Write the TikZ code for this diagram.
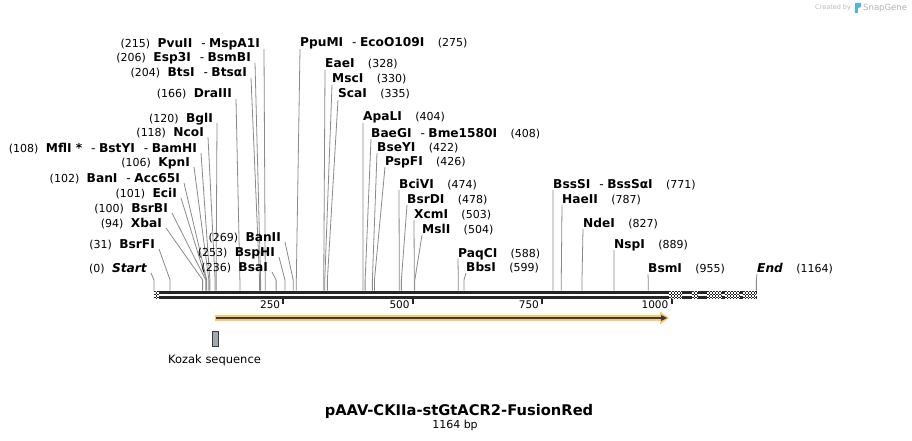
\documentclass[tikz,border=0pt]{standalone}
\usepackage{fontspec}
\setmainfont{DejaVu Sans}
\definecolor{barc}{HTML}{262626}
\definecolor{connc}{HTML}{8A8A8A}
\definecolor{featc}{HTML}{FBC86E}
\definecolor{featd}{HTML}{3C3C3C}
\definecolor{kozc}{HTML}{A3A8AE}
\definecolor{sgblue}{HTML}{4FB3E8}
\newcommand\sep{\hspace{9pt}{\mdseries-}\hspace{3.5pt}}
\newcommand\lsite[6]{%
  \node[namefont, anchor=base east] (#1) at (#3,#4) {#6};
  \node[numfont, anchor=base east] (#1n) at ([xshift=-7pt]#1.base west) {(#5)};
  \coordinate (#1k) at ({154+0.5175*#2},280);
  \coordinate (#1b) at ({154+0.5175*#2},290.7);
  \draw[conn] ([xshift=4pt,yshift=-1pt]#1.base east) -- (#1k) -- (#1b);
}
\newcommand\rsite[6]{%
  \node[namefont, anchor=base west] (#1) at (#3,#4) {#6};
  \node[numfont, anchor=base west] (#1n) at ([xshift=13pt]#1.base east) {(#5)};
  \coordinate (#1k) at ({154+0.5175*#2},280);
  \coordinate (#1b) at ({154+0.5175*#2},290.7);
  \draw[conn] ([yshift=-2pt]#1.base west) -- (#1k) -- (#1b);
}
\newcommand\chkseg[2]{%
  \begin{scope}
  \clip (#1,290.9) rectangle (#2,298.6);
  \fill[white] (#1,290.9) rectangle (#2,298.6);
  \pgfmathtruncatemacro\chknx{(#2-#1)/1.5}
  \foreach \ci in {0,...,\chknx} {
    \foreach \cj in {0,...,5} {
      \pgfmathtruncatemacro\chkpar{mod(\ci+\cj,2)}
      \ifnum\chkpar=0
        \fill[barc] ({#1+1.5*\ci},{290.9+1.5*\cj}) rectangle ++(1.5,1.5);
      \fi
    }
  }
  \end{scope}
}
\begin{document}
\begin{tikzpicture}[x=1pt,y=-1pt,
  namefont/.style={font=\fontsize{12.2}{14}\selectfont\bfseries, inner sep=0pt},
  numfont/.style={font=\fontsize{11}{13}\selectfont, inner sep=0pt},
  conn/.style={draw=connc, line width=0.8pt},
  strand/.style={fill=barc, draw=none},
  tickmark/.style={draw=barc, line width=2pt},
  ticklab/.style={font=\fontsize{10.5}{12}\selectfont, inner sep=0pt, anchor=base east}]
\useasboundingbox (0,0) rectangle (912,441);
\fill[white] (0,0) rectangle (912,441);

% sequence bar
\fill[strand] (154,290.9) rectangle (757,293.8);
\fill[strand] (154,295.6) rectangle (757,298.6);
\chkseg{154}{159}
\chkseg{669}{682}
\chkseg{692}{698}
\chkseg{707}{722}
\chkseg{725}{740}
\chkseg{743}{756}

% ticks
\foreach \v in {250,500,750,1000} {
  \coordinate (t\v) at ({154+0.5175*\v},298.6);
  \draw[tickmark] (t\v) -- ++(0,5.5);
  \node[ticklab] (tl\v) at ([xshift=-3pt,yshift=-10pt]t\v) {\v};
}

% left labels
\lsite{pvu}{215}{260}{48}{215}{PvuII\sep MspA1I}
\lsite{esp}{206}{251}{62}{206}{Esp3I\sep BsmBI}
\lsite{bts}{204}{247}{77}{204}{BtsI\sep BtsαI}
\lsite{dra}{166}{232}{98}{166}{DraIII}
\lsite{bgl}{120}{213}{122}{120}{BglI}
\lsite{nco}{118}{204}{136}{118}{NcoI}
\lsite{mfl}{108}{197}{152}{108}{MflI *\sep BstYI\sep BamHI}
\lsite{kpn}{106}{190}{166}{106}{KpnI}
\lsite{ban}{102}{180}{182}{102}{BanI\sep Acc65I}
\lsite{eci}{101}{177}{197}{101}{EciI}
\lsite{bsrb}{100}{168}{212}{100}{BsrBI}
\lsite{xba}{94}{162}{227}{94}{XbaI}
\lsite{bsrf}{31}{155}{248}{31}{BsrFI}
\lsite{start}{0}{147}{272}{0}{\itshape Start}
\lsite{banii}{269}{281}{241}{269}{BanII}
\lsite{bsph}{253}{275}{256}{253}{BspHI}
\lsite{bsa}{236}{268}{271}{236}{BsaI}

% right labels
\rsite{ppu}{275}{300}{47}{275}{PpuMI\sep EcoO109I}
\rsite{eae}{328}{325}{68}{328}{EaeI}
\rsite{msc}{330}{332}{83}{330}{MscI}
\rsite{sca}{335}{338}{98}{335}{ScaI}
\rsite{apa}{404}{363}{121}{404}{ApaLI}
\rsite{bae}{408}{371}{137}{408}{BaeGI\sep Bme1580I}
\rsite{bsey}{422}{377}{151}{422}{BseYI}
\rsite{psp}{426}{385}{165}{426}{PspFI}
\rsite{bci}{474}{399}{188}{474}{BciVI}
\rsite{bsrd}{478}{407}{203}{478}{BsrDI}
\rsite{xcm}{503}{414}{218}{503}{XcmI}
\rsite{msl}{504}{422}{233}{504}{MslI}
\rsite{paq}{588}{458}{257}{588}{PaqCI}
\rsite{bbs}{599}{466}{271}{599}{BbsI}
\rsite{bsss}{771}{553}{188}{771}{BssSI\sep BssSαI}
\rsite{hae}{787}{562}{203}{787}{HaeII}
\rsite{nde}{827}{583}{227}{827}{NdeI}
\rsite{nsp}{889}{614}{248}{889}{NspI}
\rsite{bsm}{955}{648}{272}{955}{BsmI}
\rsite{end}{1164}{757}{272}{1164}{\itshape End}

% feature arrow
\coordinate (fa) at (215,318);
\coordinate (fb) at (661,318);
\coordinate (fc) at (669,318);
\draw[featc, line width=6pt] (fa) -- (fb);
\fill[featc] (660,311.5) -- (fc) -- (660,324.5) -- cycle;
\draw[featd, line width=1.6pt] (216,318) -- (663,318);
\fill[featd] (661,315) -- (667,318) -- (661,321) -- cycle;

% Kozak
\node[draw=featd, fill=kozc, line width=0.8pt, minimum width=6pt, minimum height=15pt, inner sep=0pt] (koz) at (215,338.5) {};
\node[font=\fontsize{11.5}{13}\selectfont, anchor=base, inner sep=0pt] (kozl) at (214.5,363) {Kozak sequence};

% title
\node[font=\fontsize{14.7}{16}\selectfont\bfseries, anchor=base, inner sep=0pt] (title) at (459,415) {pAAV-CKIIa-stGtACR2-FusionRed};
\node[font=\fontsize{11}{13}\selectfont, anchor=base, inner sep=0pt] (bp) at (455,428.5) {1164 bp};

% created by
\node[font=\fontsize{6.5}{8}\selectfont, text=gray!55, anchor=base west, inner sep=0pt] (cb) at (815,9.5) {Created by};
\fill[sgblue] (855,3) rectangle (858,13);
\fill[sgblue] (858,3) -- (861,3) -- (861,7) -- (858,8) -- cycle;
\node[font=\fontsize{8.5}{10}\selectfont, text=gray!60, anchor=base west, inner sep=0pt] (sg) at (863,10.5) {SnapGene};
\end{tikzpicture}
\end{document}
